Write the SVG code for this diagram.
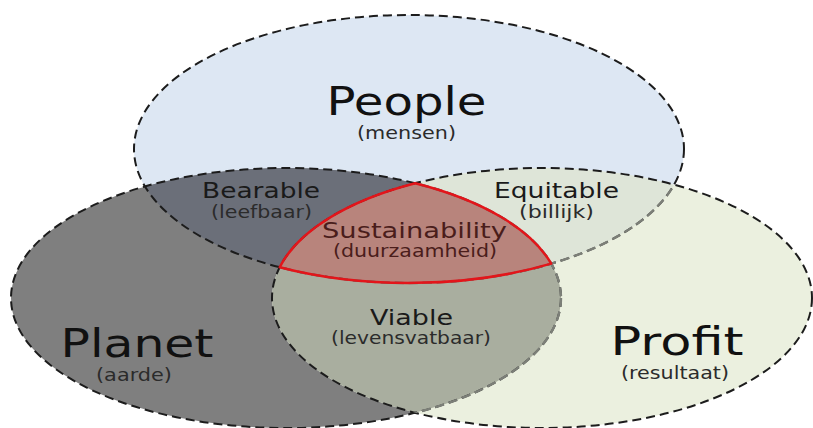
<svg xmlns="http://www.w3.org/2000/svg" width="813" height="428" viewBox="0 0 813 428">
<style>
.outline{fill:none;stroke:#1c1c1c;stroke-width:2;stroke-dasharray:9 5}
.soft{fill:none;stroke:#7c7f78;stroke-width:2.4;stroke-dasharray:9 5}
text{font-family:"DejaVu Sans","Verdana",sans-serif;text-anchor:middle}
.big{font-size:38.5px;fill:#111}
.mid{font-size:20.6px;fill:#1a1a1a}
.sub{font-size:17px;fill:#2b2b2b}
.red{fill:#4a1d1b}
</style>
<defs>
<clipPath id="cp-people"><ellipse cx="409" cy="149" rx="275" ry="134"/></clipPath>
<clipPath id="cp-planet"><ellipse cx="286" cy="298" rx="275" ry="130"/></clipPath>
<clipPath id="cp-profit"><ellipse cx="542" cy="298" rx="270" ry="130"/></clipPath>
</defs>
<rect width="813" height="428" fill="#ffffff"/>
<g id="people">
<ellipse cx="409" cy="149" rx="275" ry="134" fill="#dde7f3"/>
</g>
<g id="planet">
<ellipse cx="286" cy="298" rx="275" ry="130" fill="#7f7f7f"/>
</g>
<g id="profit">
<ellipse cx="542" cy="298" rx="270" ry="130" fill="#ebf0df"/>
</g>
<g id="bearable">
<ellipse cx="286" cy="298" rx="275" ry="130" fill="#6b6f79" clip-path="url(#cp-people)"/>
</g>
<g id="equitable">
<ellipse cx="542" cy="298" rx="270" ry="130" fill="#dee5d8" clip-path="url(#cp-people)"/>
</g>
<g id="viable">
<ellipse cx="542" cy="298" rx="270" ry="130" fill="#a9ae9f" clip-path="url(#cp-planet)"/>
</g>
<g id="sustainability">
<path d="M279.7 267.2 A270 130 0 0 1 415.2 183.2 A275 130 0 0 1 551.2 263.6 A275 134 0 0 1 279.7 267.2 Z" fill="#b8847c"/>
</g>
<g id="connectors">
<ellipse class="outline" cx="409" cy="149" rx="275" ry="134"/>
<ellipse class="outline" cx="286" cy="298" rx="275" ry="130"/>
<ellipse class="outline" cx="542" cy="298" rx="270" ry="130"/>
<g clip-path="url(#cp-profit)">
<ellipse class="soft" cx="409" cy="149" rx="275" ry="134"/>
<ellipse class="soft" cx="286" cy="298" rx="275" ry="130"/>
</g>
<path d="M279.7 267.2 A270 130 0 0 1 415.2 183.2 A275 130 0 0 1 551.2 263.6 A275 134 0 0 1 279.7 267.2 Z" fill="none" stroke="#e3151a" stroke-width="2.5" stroke-linejoin="round"/>
</g>
<g id="labels">
<text class="big" x="406.5" y="115" textLength="160" lengthAdjust="spacingAndGlyphs">People</text>
<text class="sub" x="406.5" y="139" textLength="99" lengthAdjust="spacingAndGlyphs">(mensen)</text>
<text class="mid" x="261" y="198" textLength="118" lengthAdjust="spacingAndGlyphs">Bearable</text>
<text class="sub" x="261.5" y="218" textLength="101" lengthAdjust="spacingAndGlyphs">(leefbaar)</text>
<text class="mid" x="556.5" y="198" textLength="125" lengthAdjust="spacingAndGlyphs">Equitable</text>
<text class="sub" x="556.5" y="218" textLength="75" lengthAdjust="spacingAndGlyphs">(billijk)</text>
<text class="mid red" x="414.5" y="238" textLength="185" lengthAdjust="spacingAndGlyphs">Sustainability</text>
<text class="sub red" x="415" y="257" textLength="164" lengthAdjust="spacingAndGlyphs">(duurzaamheid)</text>
<text class="mid" x="411.5" y="325" textLength="83" lengthAdjust="spacingAndGlyphs">Viable</text>
<text class="sub" x="411" y="344" textLength="160" lengthAdjust="spacingAndGlyphs">(levensvatbaar)</text>
<text class="big" x="137" y="357" textLength="153" lengthAdjust="spacingAndGlyphs">Planet</text>
<text class="sub" x="134" y="381" textLength="76" lengthAdjust="spacingAndGlyphs">(aarde)</text>
<text class="big" x="677" y="355" textLength="133" lengthAdjust="spacingAndGlyphs">Profit</text>
<text class="sub" x="675" y="379" textLength="108" lengthAdjust="spacingAndGlyphs">(resultaat)</text>
</g>
</svg>
